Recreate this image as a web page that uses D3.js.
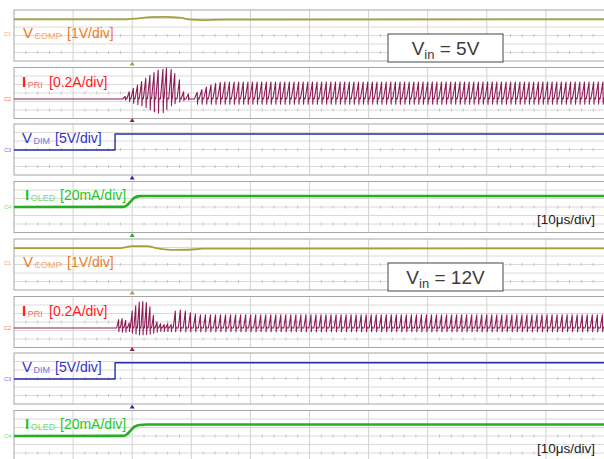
<!DOCTYPE html>
<html>
<head>
<meta charset="utf-8">
<script src="https://cdn.jsdelivr.net/npm/d3@7"></script>
<style>
body { margin: 0; background: #fff; }
svg { display: block; }
</style>
</head>
<body>
<svg width="604" height="459"></svg>
<script>
// time base: 10 us/div, 10 divisions on screen
const timeTicks = [0, 10, 20, 30, 40, 50, 60, 70, 80, 90, 100];
const triggerT = 20;

// panels (top: Vin = 5V, bottom: Vin = 12V)
const panelVin = ["5V", "12V"];
const chMain = ["V", "I", "V", "I"];
const chSub = ["COMP", "PRI", "DIM", "OLED"];
const chScale = ["[1V/div]", "[0.2A/div]", "[5V/div]", "[20mA/div]"];
const chPerDiv = [1, 0.2, 5, 20];
const chMarker = ["C1", "C2", "C3", "C4"];

// VCOMP (V)
const vcompT5 = [0, 19, 21, 23, 25.5, 28, 30, 32, 35, 100];
const vcompV5 = [1.73, 1.73, 1.85, 1.98, 2.02, 1.92, 1.68, 1.64, 1.70, 1.72];
const vcompT12 = [0, 18, 20, 22.5, 24, 26.5, 29.5, 32, 100];
const vcompV12 = [1.76, 1.76, 1.98, 1.98, 1.76, 1.55, 1.56, 1.68, 1.72];

// VDIM (V)
const vdimT = [0, 17.1, 17.1, 100];
const vdimV5 = [0, 0, 9.4, 9.4];
const vdimV12 = [0, 0, 9.6, 9.6];

// IOLED (mA)
const ioledT = [0, 18.6, 19.2, 19.8, 20.4, 21.2, 22.5, 100];
const ioledV5 = [0, 0.3, 5, 14, 22, 25.5, 26, 26];
const ioledV12 = [0, 0.3, 5, 14, 22, 26, 27, 27];

// IPRI start-up burst: peak time (us), peak and trough current (A) of each cycle
const ipriBurstT5 = [18.8, 19.5, 20.2, 20.9, 21.6, 22.3, 23.0, 23.7, 24.4, 25.2, 25.8, 26.6, 27.2, 28.0, 28.7, 29.5];
const ipriBurstPk5 = [0.06, 0.17, 0.25, 0.33, 0.41, 0.49, 0.56, 0.62, 0.68, 0.70, 0.72, 0.70, 0.60, 0.45, 0.17, 0.12];
const ipriBurstTr5 = [-0.02, -0.06, -0.10, -0.13, -0.16, -0.20, -0.25, -0.30, -0.33, -0.32, -0.24, -0.16, -0.11, -0.07, -0.04, -0.02];
const ipriBurstT12 = [17.7, 18.3, 18.9, 19.5, 20.0, 20.6, 21.2, 21.8, 22.4, 23.0, 23.6, 24.2, 24.8, 25.4, 26.0, 26.6];
const ipriBurstPk12 = [0.20, 0.22, 0.18, 0.12, 0.40, 0.52, 0.61, 0.62, 0.60, 0.50, 0.30, 0.14, 0.10, 0.08, 0.10, 0.08];
const ipriBurstTr12 = [-0.08, -0.10, -0.10, -0.08, -0.12, -0.14, -0.16, -0.16, -0.15, -0.14, -0.12, -0.10, -0.08, -0.08, -0.08, -0.08];
const ipriBurstPeriod = [0.72, 0.6];

// IPRI steady switching after the burst
const ipriSteadyStart = [31.0, 27.3];
const ipriPeriod = [0.78, 0.85];
const ipriStartPk5 = [0.16, 0.22, 0.28, 0.33, 0.37, 0.39];
const ipriStartPk12 = [0.40, 0.42, 0.40, 0.36, 0.33];
const ipriSteadyPk = [0.40, 0.31];
const ipriSteadyTr = [-0.12, -0.09];
const ipriRise = [0.6, 0.42];

// ---- layout ----
const svg = d3.select("svg");
const panelY = [0, 229];
const boxTop = [10, 67.5, 124, 181.5];
const boxH = 51;
const divPx = 8.5;
const ground = [34, 99, 150, 207];
const traceColor = ["#a2a23a", "#8c1c55", "#2a2aa8", "#22b022"];
const mainColor = ["#f07c1c", "#ff1a1a", "#3434c4", "#1ec81e"];
const subColor = ["#f5a868", "#ff6a6a", "#7474dc", "#74dc74"];
const traceWidth = [1.8, 1.1, 1.4, 2.6];
const labelX = [[23, 67], [22, 49], [22, 55], [25, 60]];
const labelY = [38, 87, 143, 200];
const font = "'Liberation Sans', Arial, sans-serif";

const x = d3.scaleLinear().domain([0, 100]).range([14, 605]);

function ipriPoints(p, bT, bPk, bTr, startPk) {
  const pts = [[0, 0]];
  const add = (t, pk, tr, T, rise) => {
    pts.push([t - rise * T, 0]);
    pts.push([t, pk]);
    pts.push([t + 0.07 * T, tr]);
    pts.push([t + 0.15 * T, 0.03]);
    pts.push([t + 0.22 * T, 0]);
  };
  bT.forEach((t, i) => add(t, bPk[i], bTr[i], ipriBurstPeriod[p], ipriRise[p] * ipriPeriod[p] / ipriBurstPeriod[p] * 0.9));
  let i = 0;
  for (let t = ipriSteadyStart[p]; t < 101; t += ipriPeriod[p], i++) {
    add(t, i < startPk.length ? startPk[i] : ipriSteadyPk[p], ipriSteadyTr[p], ipriPeriod[p], ipriRise[p]);
  }
  return pts;
}

const clip = svg.append("defs");

panelVin.forEach((vin, p) => {
  const oy = panelY[p];
  const g = svg.append("g");

  // boxes and grid
  boxTop.forEach((bt, b) => {
    const top = oy + bt;
    const bg = g.append("g");
    for (let k = 1; k < 6; k++) {
      bg.append("line").attr("x1", 14).attr("x2", 604)
        .attr("y1", top + k * divPx).attr("y2", top + k * divPx)
        .attr("stroke", "#dadada").attr("stroke-width", 1);
    }
    timeTicks.slice(1).forEach(t => {
      bg.append("line").attr("x1", x(t)).attr("x2", x(t))
        .attr("y1", top).attr("y2", top + boxH)
        .attr("stroke", "#d2d2d2").attr("stroke-width", 1);
    });
    [3, 5].forEach(k => {
      for (let t = 2; t < 100; t += 2) {
        if (t % 10 === 0) continue;
        bg.append("line").attr("x1", x(t)).attr("x2", x(t))
          .attr("y1", top + k * divPx - 1.5).attr("y2", top + k * divPx + 1.5)
          .attr("stroke", "#c4c4c4").attr("stroke-width", 1);
      }
    });
    bg.append("rect").attr("x", 14).attr("y", top).attr("width", 600).attr("height", boxH)
      .attr("fill", "none").attr("stroke", "#a6a6a6").attr("stroke-width", 1);

    clip.append("clipPath").attr("id", `c${p}${b}`)
      .append("rect").attr("x", 14).attr("y", top).attr("width", 600).attr("height", boxH);

    // trigger marker above the box
    const mc = p === 0 ? (b > 0 ? traceColor[b - 1] : null) : (b > 0 ? traceColor[b - 1] : traceColor[3]);
    if (mc) {
      const mx = x(triggerT);
      bg.append("path")
        .attr("d", `M${mx - 2.5},${top - 2} L${mx + 2.5},${top - 2} L${mx},${top - 6} Z`)
        .attr("fill", mc);
    }
  });

  // traces
  const data = [
    d3.zip(vcompT5, p === 0 ? vcompV5 : vcompV12),
    ipriPoints(p, p === 0 ? ipriBurstT5 : ipriBurstT12, p === 0 ? ipriBurstPk5 : ipriBurstPk12,
      p === 0 ? ipriBurstTr5 : ipriBurstTr12, p === 0 ? ipriStartPk5 : ipriStartPk12),
    d3.zip(vdimT, p === 0 ? vdimV5 : vdimV12),
    d3.zip(ioledT, p === 0 ? ioledV5 : ioledV12)
  ];
  if (p === 1) data[0] = d3.zip(vcompT12, vcompV12);

  data.forEach((pts, c) => {
    const y = d3.scaleLinear().domain([0, chPerDiv[c]]).range([oy + ground[c], oy + ground[c] - divPx]);
    const line = d3.line().x(d => x(d[0])).y(d => y(d[1]));
    if (c === 0 || c === 3) line.curve(d3.curveMonotoneX);
    g.append("path").attr("d", line(pts))
      .attr("clip-path", `url(#c${p}${c})`)
      .attr("fill", "none").attr("stroke", traceColor[c])
      .attr("stroke-width", traceWidth[c]).attr("stroke-linejoin", "round");

    // ground marker
    g.append("text").attr("x", 4).attr("y", oy + ground[c] + 1.5)
      .attr("font-family", font).attr("font-size", 5.5)
      .attr("fill", subColor[c]).text(chMarker[c]);

    // channel label
    const t = g.append("text").attr("x", labelX[c][0]).attr("y", oy + labelY[c])
      .attr("font-family", font);
    t.append("tspan").attr("font-size", 15).attr("fill", mainColor[c])
      .attr("font-weight", chMain[c] === "I" ? "bold" : "normal").text(chMain[c]);
    t.append("tspan").attr("font-size", 9).attr("dx", 1.5).attr("dy", 1)
      .attr("fill", subColor[c]).text(chSub[c]);
    g.append("text").attr("x", labelX[c][1]).attr("y", oy + labelY[c])
      .attr("font-family", font).attr("font-size", 14)
      .attr("fill", mainColor[c]).text(chScale[c]);
  });

  // Vin box
  g.append("rect").attr("x", 388).attr("y", oy + 34).attr("width", 115).attr("height", 28)
    .attr("fill", "#fff").attr("stroke", "#444").attr("stroke-width", 1);
  const vt = g.append("text").attr("x", 445.5).attr("y", oy + 55)
    .attr("text-anchor", "middle").attr("font-family", font)
    .attr("font-size", 19).attr("fill", "#3c3c3c");
  vt.append("tspan").text("V");
  vt.append("tspan").attr("font-size", 13).attr("dy", 4).text("in");
  vt.append("tspan").attr("dy", -4).text(" = " + vin);

  // time scale
  g.append("text").attr("x", 537).attr("y", oy + 224)
    .attr("font-family", font).attr("font-size", 13.5).attr("fill", "#222")
    .text("[10μs/div]");
});
</script>
</body>
</html>
